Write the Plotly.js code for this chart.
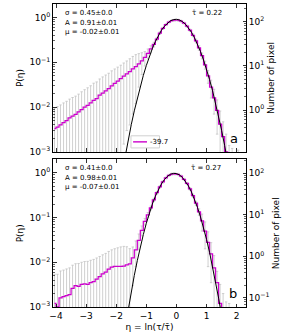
<!DOCTYPE html>
<html><head><meta charset="utf-8">
<script src="https://cdn.plot.ly/plotly-3.0.1.min.js"></script>
<style>html,body{margin:0;padding:0;background:#fff}#chart{width:299px;height:333px}</style>
</head><body><div id="chart"></div>
<script>
// ---------- data ----------
const etaBins = [-4.05,-3.95,-3.85,-3.75,-3.65,-3.55,-3.45,-3.35,-3.25,-3.15,
  -3.05,-2.95,-2.85,-2.75,-2.65,-2.55,-2.45,-2.35,-2.25,-2.15,
  -2.05,-1.95,-1.85,-1.75,-1.65,-1.55,-1.45,-1.35,-1.25,-1.15,
  -1.05,-0.95,-0.85,-0.75,-0.65,-0.55,-0.45,-0.35,-0.25,-0.15,
  -0.05,0.05,0.15,0.25,0.35,0.45,0.55,0.65,0.75,0.85,
  0.95,1.05,1.15,1.25,1.35,1.45,1.55,1.65,1.75,1.85,
  1.95,2.05];

const probTop = [0.0033,0.0036,0.0040,0.0045,0.0050,0.0058,0.0063,0.0069,0.0078,0.0088,
  0.0100,0.0110,0.0125,0.0142,0.0155,0.0185,0.0205,0.023,0.026,0.030,
  0.034,0.038,0.043,0.049,0.055,0.062,0.071,0.080,0.092,0.108,
  0.128,0.158,0.198,0.250,0.330,0.450,0.570,0.690,0.790,0.850,
  0.870,0.870,0.830,0.750,0.640,0.520,0.400,0.300,0.210,0.140,
  0.088,0.050,0.028,0.016,0.0085,0.0042,0.0022,0.0010,0.0005,0.0004,
  null,0.0003];
const errTop = [0.0063,0.0067,0.0072,0.0079,0.0085,0.0093,0.0101,0.0107,0.0117,0.0132,
  0.0145,0.016,0.0175,0.020,0.021,0.024,0.0267,0.029,0.031,0.0345,
  0.037,0.040,0.043,0.0475,0.052,0.058,0.064,0.068,0.064,0.055,
  0.045,0.040,0.036,0.030,0.028,0.030,0.031,0.032,0.035,0.038,
  0.040,0.040,0.038,0.036,0.033,0.030,0.030,0.028,0.024,0.021,
  0.018,0.016,0.012,0.009,0.006,0.004,0.0025,0.0015,0.0009,0.0008,
  null,0.0008];

const probBot = [0.0012,0.0010,0.0016,0.0017,0.0018,0.0019,0.0026,0.0030,0.0029,0.0032,
  0.0033,0.0032,0.0035,0.0037,0.0042,0.0048,0.0055,0.0060,0.0070,0.0078,
  0.0081,0.0081,0.0081,0.0082,0.0088,0.0092,0.0125,0.019,0.031,0.052,
  0.082,0.115,0.165,0.25,0.36,0.49,0.63,0.77,0.88,0.94,
  0.95,0.93,0.85,0.72,0.58,0.44,0.31,0.21,0.135,0.085,
  0.050,0.028,0.0155,0.0075,0.0035,0.0012,0.0005,0.0004,0.0003,null,
  null,null];
const errBot = [0.0042,0.0044,0.0048,0.0050,0.0053,0.0056,0.0060,0.0063,0.0065,0.0068,
  0.0071,0.0073,0.0076,0.0079,0.0083,0.0087,0.0092,0.0098,0.0105,0.0112,
  0.012,0.013,0.014,0.0145,0.0135,0.011,0.0095,0.011,0.012,0.013,
  0.014,0.015,0.016,0.020,0.025,0.030,0.035,0.040,0.045,0.045,
  0.045,0.045,0.040,0.036,0.032,0.028,0.025,0.022,0.022,0.035,
  0.030,0.020,0.012,0.0066,0.0028,0.002,0.0015,0.0009,0.0009,null,
  null,null];

const fitEtaTop = [-1.8,-1.7,-1.6,-1.5,-1.4,-1.3,-1.2,-1.1,-1.0,-0.9,-0.8,-0.7,-0.6,-0.5,-0.4,-0.3,-0.2,-0.1,
  0.0,0.1,0.2,0.3,0.4,0.5,0.6,0.7,0.8,0.9,1.0,1.1,1.2,1.3,1.4,1.5,1.6,1.7];
const fitTop = [3.6e-4,8.6e-4,1.91e-3,4.07e-3,8.26e-3,0.0159,0.0292,0.0511,0.0849,0.1346,0.2027,0.2904,0.3963,0.5152,0.637,0.750,0.840,0.896,
  0.909,0.878,0.807,0.707,0.589,0.467,0.352,0.253,0.173,0.1125,0.0697,0.0411,0.0231,0.0123,0.00626,0.00303,0.00140,0.000611];

const fitEtaBot = [-1.7,-1.6,-1.5,-1.4,-1.3,-1.2,-1.1,-1.0,-0.9,-0.8,-0.7,-0.6,-0.5,-0.4,-0.3,-0.2,-0.1,
  0.0,0.1,0.2,0.3,0.4,0.5,0.6,0.7,0.8,0.9,1.0,1.1,1.2,1.3,1.4,1.5];
const fitBot = [3.62e-4,9.27e-4,2.23e-3,5.08e-3,0.0109,0.0220,0.0418,0.0748,0.1262,0.2009,0.3009,0.4246,0.565,0.708,0.837,0.932,0.977,
  0.966,0.899,0.789,0.652,0.508,0.373,0.258,0.168,0.1031,0.0597,0.0325,0.0167,0.00809,0.00369,0.00158,0.000641];

const xTickVals = [-4,-3,-2,-1,0,1,2];
const pTickVals = [0.001,0.01,0.1,1];
const pTickText = ['10<sup>−3</sup>','10<sup>−2</sup>','10<sup>−1</sup>','10<sup>0</sup>'];
const nTickValsTop = [1,10,100];
const nTickTextTop = ['10<sup>0</sup>','10<sup>1</sup>','10<sup>2</sup>'];
const nTickValsBot = [0.1,1,10,100];
const nTickTextBot = ['10<sup>−1</sup>','10<sup>0</sup>','10<sup>1</sup>','10<sup>2</sup>'];

const paramsTop = ['σ = 0.45±0.0','A = 0.91±0.01','μ = -0.02±0.01'];
const paramsBot = ['σ = 0.41±0.0','A = 0.98±0.01','μ = -0.07±0.01'];
const tauTop = 'τ̄ = 0.22', tauBot = 'τ̄ = 0.27';
const legendLabel = '-39.7';

// ---------- styling ----------
const FONT = 'DejaVu Sans';
const MAG = '#cc00cc';
const minorLog = [];
for (let k = -4; k <= 3; k++) for (let m = 2; m <= 9; m++) minorLog.push(m * Math.pow(10, k));

function errTrace(x, y, e, xa, ya) {
  return {x: x, y: y, xaxis: xa, yaxis: ya, type: 'scatter', mode: 'markers',
    marker: {size: 1, color: 'rgba(0,0,0,0)'}, hoverinfo: 'skip', showlegend: false,
    error_y: {type: 'data', array: e, visible: true, color: '#c4c4c4', thickness: 0.8, width: 1.2}};
}
function stepTrace(x, y, xa, ya) {
  return {x: x, y: y, xaxis: xa, yaxis: ya, type: 'scatter', mode: 'lines',
    line: {color: MAG, width: 1.25, shape: 'hvh'}, showlegend: false};
}
function fitTrace(x, y, xa, ya) {
  return {x: x, y: y, xaxis: xa, yaxis: ya, type: 'scatter', mode: 'lines',
    line: {color: '#000000', width: 1.0}, showlegend: false};
}
function dummy(xa, ya) {
  return {x: [0], y: [null], xaxis: xa, yaxis: ya, type: 'scatter', mode: 'markers',
    showlegend: false, hoverinfo: 'skip'};
}

const traces = [
  errTrace(etaBins, probTop, errTop, 'x2', 'y'),
  stepTrace(etaBins, probTop, 'x2', 'y'),
  fitTrace(fitEtaTop, fitTop, 'x2', 'y'),
  dummy('x2', 'y3'),
  errTrace(etaBins, probBot, errBot, 'x', 'y2'),
  stepTrace(etaBins, probBot, 'x', 'y2'),
  fitTrace(fitEtaBot, fitBot, 'x', 'y2'),
  dummy('x', 'y4')
];

const tickFont = {family: FONT, size: 9, color: '#000'};
const baseX = {range: [-4.1, 2.31], tickmode: 'array', tickvals: xTickVals, ticks: 'inside', ticklen: 3.5,
  tickwidth: 0.8, tickcolor: '#000', showline: true, linecolor: '#000', linewidth: 1, mirror: 'ticks',
  showgrid: false, zeroline: false, tickfont: tickFont};
const baseYL = {type: 'log', range: [-3, 0.3], tickmode: 'array', tickvals: pTickVals, ticktext: pTickText,
  ticks: 'inside', ticklen: 3.5, tickwidth: 0.8, tickcolor: '#000', showline: true, linecolor: '#000', linewidth: 1,
  showgrid: false, zeroline: false, tickfont: tickFont,
  minor: {tickmode: 'array', tickvals: minorLog, ticks: 'inside', ticklen: 2, tickwidth: 0.6, tickcolor: '#000', showgrid: false},
  title: {text: 'P(η)', font: {family: FONT, size: 9, color: '#000'}, standoff: 4}};
function rightAxis(over, range, vals, text) {
  return {type: 'log', overlaying: over, side: 'right', range: range, tickmode: 'array', tickvals: vals, ticktext: text,
    ticks: 'inside', ticklen: 3.5, tickwidth: 0.8, tickcolor: '#000', showline: true, linecolor: '#000', linewidth: 1,
    showgrid: false, zeroline: false, tickfont: tickFont,
    minor: {tickmode: 'array', tickvals: minorLog, ticks: 'inside', ticklen: 2, tickwidth: 0.6, tickcolor: '#000', showgrid: false},
    title: {text: 'Number of pixel', font: {family: FONT, size: 9, color: '#000'}, standoff: 4}};
}

const domTop = [0.5116, 1], domBot = [0, 0.4868];
const ann = [];
function txt(x, y, t, size, anchor) {
  ann.push({xref: 'paper', yref: 'paper', x: x, y: y, text: t, showarrow: false, xanchor: anchor || 'left', yanchor: 'middle',
    font: {family: FONT, size: size, color: '#000'}});
}
txt(0.052, 0.970, paramsTop[0], 7); txt(0.052, 0.937, paramsTop[1], 7); txt(0.052, 0.907, paramsTop[2], 7);
txt(0.80, 0.970, tauTop, 7, 'center');
txt(0.938, 0.556, 'a', 13, 'center');
txt(0.052, 0.459, paramsBot[0], 7); txt(0.052, 0.426, paramsBot[1], 7); txt(0.052, 0.396, paramsBot[2], 7);
txt(0.795, 0.459, tauBot, 7, 'center');
txt(0.935, 0.043, 'b', 13, 'center');
txt(0.49, 0.545, legendLabel, 7);

const layout = {
  width: 299, height: 333, margin: {l: 53, r: 53, t: 4, b: 26}, paper_bgcolor: '#fff', plot_bgcolor: '#fff',
  showlegend: false, font: {family: FONT, size: 9, color: '#000'},
  xaxis: Object.assign({}, baseX, {anchor: 'y2', title: {text: 'η = ln(τ/τ̄)', font: {family: FONT, size: 9, color: '#000'}, standoff: 3}}),
  xaxis2: Object.assign({}, baseX, {anchor: 'y', matches: 'x', showticklabels: false}),
  yaxis: Object.assign({}, baseYL, {domain: domTop, anchor: 'x2'}),
  yaxis2: Object.assign({}, baseYL, {domain: domBot, anchor: 'x'}),
  yaxis3: Object.assign(rightAxis('y', [-0.95, 2.40], nTickValsTop, nTickTextTop), {anchor: 'x2'}),
  yaxis4: Object.assign(rightAxis('y2', [-1.22, 2.33], nTickValsBot, nTickTextBot), {anchor: 'x'}),
  annotations: ann,
  shapes: [
    {type: 'rect', xref: 'paper', yref: 'paper', x0: 0.404, x1: 0.552, y0: 0.525, y1: 0.565,
      line: {color: '#d0d0d0', width: 1}, fillcolor: 'rgba(255,255,255,0.9)'},
    {type: 'line', xref: 'paper', yref: 'paper', x0: 0.415, x1: 0.487, y0: 0.545, y1: 0.545,
      line: {color: MAG, width: 1.4}}
  ]
};
Plotly.newPlot('chart', traces, layout, {staticPlot: true, displayModeBar: false});
</script></body></html>
